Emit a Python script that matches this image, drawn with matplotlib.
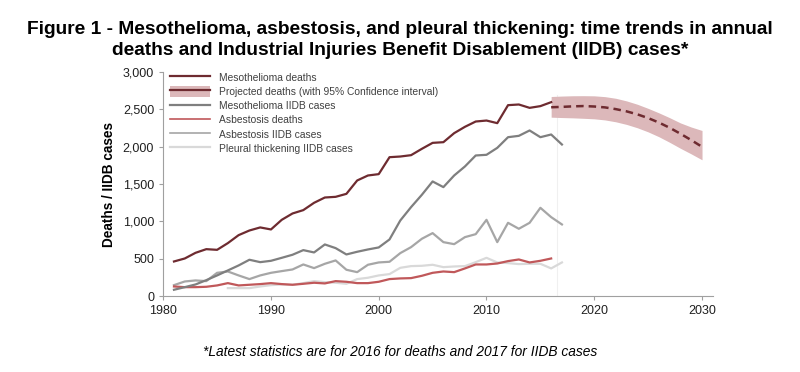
import matplotlib.pyplot as plt
from matplotlib.patches import Patch
from matplotlib.lines import Line2D
import numpy as np

plt.rcParams['font.family'] = ['Liberation Sans', 'DejaVu Sans']

years_deaths = list(range(1981, 2017))
meso_deaths = [464, 504, 580, 629, 620, 710, 817, 879, 920, 893, 1022, 1107, 1152, 1250,
               1321, 1330, 1370, 1549, 1616, 1634, 1861, 1870, 1888, 1973, 2053, 2062,
               2183, 2268, 2339, 2352, 2317, 2558, 2567, 2522, 2545, 2598]
asb_deaths = [129, 120, 120, 125, 143, 174, 143, 152, 161, 174, 161, 152, 165, 179, 170,
              201, 192, 174, 174, 192, 228, 237, 241, 272, 312, 330, 321, 371, 424, 424,
              437, 469, 491, 451, 473, 504]

years_iidb = list(range(1981, 2018))
meso_iidb = [85, 120, 156, 214, 277, 344, 411, 487, 455, 473, 513, 554, 616, 585, 692,
             643, 558, 594, 625, 652, 759, 1013, 1192, 1357, 1536, 1460, 1616, 1737,
             1884, 1893, 1986, 2129, 2147, 2219, 2129, 2165, 2031]
asb_iidb = [147, 196, 210, 201, 312, 330, 277, 228, 277, 312, 335, 357, 424, 375, 433,
            478, 353, 321, 420, 451, 460, 576, 656, 768, 844, 723, 696, 790, 830, 1022,
            723, 982, 902, 982, 1183, 1058, 960]

years_pleural = list(range(1986, 2018))
pleural_iidb = [107, 107, 107, 129, 147, 156, 152, 174, 201, 187, 179, 165, 228, 246,
                277, 295, 379, 402, 406, 420, 388, 397, 402, 455, 513, 451, 442, 429,
                433, 433, 371, 451]

years_proj = list(range(2016, 2031))
proj_deaths = [2530, 2535, 2542, 2546, 2540, 2528, 2505, 2475, 2435, 2385, 2325, 2255,
               2175, 2090, 2000]
proj_low = [2397, 2392, 2388, 2382, 2375, 2360, 2335, 2300, 2255, 2200, 2135, 2060,
            1980, 1905, 1826]
proj_high = [2674, 2680, 2684, 2685, 2683, 2672, 2650, 2615, 2570, 2515, 2455, 2390,
             2320, 2265, 2219]

c_meso = '#6e2b30'
c_band = '#dcb8ba'
c_meso_iidb = '#7f7f7f'
c_asb = '#c0585a'
c_asb_iidb = '#a6a6a6'
c_pleural = '#d9d9d9'

fig = plt.figure(figsize=(8, 3.72), dpi=100)
ax = fig.add_axes([0.204, 0.204, 0.687, 0.602])

ax.plot([2016.5, 2016.5], [0, 2690], color='#f0f0f0', lw=0.8, zorder=0)
ax.fill_between(years_proj, proj_low, proj_high, color=c_band, lw=0, zorder=1)
ax.plot(years_proj, proj_deaths, color=c_meso, lw=1.8, ls=(0, (3, 2)), zorder=3)

ax.plot(years_pleural, pleural_iidb, color=c_pleural, lw=1.6)
ax.plot(years_iidb, asb_iidb, color=c_asb_iidb, lw=1.6)
ax.plot(years_deaths, asb_deaths, color=c_asb, lw=1.6)
ax.plot(years_iidb, meso_iidb, color=c_meso_iidb, lw=1.6)
ax.plot(years_deaths, meso_deaths, color=c_meso, lw=1.6)

ax.set_xlim(1980, 2031)
ax.set_ylim(0, 3000)
ax.set_xticks(range(1980, 2031, 10))
ax.set_yticks(range(0, 3001, 500))
ax.set_yticklabels([f'{v:,}' for v in range(0, 3001, 500)])
for s in ['top', 'right']:
    ax.spines[s].set_visible(False)
for s in ['left', 'bottom']:
    ax.spines[s].set_color('#a0a0a0')
    ax.spines[s].set_linewidth(0.8)
ax.tick_params(colors='#a0a0a0', labelcolor='#202020', labelsize=9, length=3, width=0.8)
ax.set_ylabel('Deaths / IIDB cases', fontsize=9.8, fontweight='bold', labelpad=5)

handles = [Line2D([], [], color=c_meso, lw=1.6),
           (Patch(color=c_band, lw=0), Line2D([], [], color=c_meso, lw=1.6)),
           Line2D([], [], color=c_meso_iidb, lw=1.6),
           Line2D([], [], color=c_asb, lw=1.2),
           Line2D([], [], color=c_asb_iidb, lw=1.2),
           Line2D([], [], color=c_pleural, lw=1.6)]
labels = ['Mesothelioma deaths', 'Projected deaths (with 95% Confidence interval)',
          'Mesothelioma IIDB cases', 'Asbestosis deaths', 'Asbestosis IIDB cases',
          'Pleural thickening IIDB cases']
leg = ax.legend(handles, labels, loc='upper left', bbox_to_anchor=(0.0, 1.035),
                frameon=False, fontsize=7.4, handlelength=3.9, handleheight=1.3,
                labelspacing=0.3, handletextpad=0.85, borderaxespad=0.3)
for t in leg.get_texts():
    t.set_color('#404040')

fig.text(0.5, 0.922, 'Figure 1 - Mesothelioma, asbestosis, and pleural thickening: time trends in annual',
         ha='center', va='center', fontsize=13.8, fontweight='bold')
fig.text(0.5, 0.863, 'deaths and Industrial Injuries Benefit Disablement (IIDB) cases*',
         ha='center', va='center', fontsize=13.8, fontweight='bold')
fig.text(0.5, 0.053, '*Latest statistics are for 2016 for deaths and 2017 for IIDB cases',
         ha='center', va='center', fontsize=9.9, style='italic')

fig.savefig('out.png', dpi=100)
